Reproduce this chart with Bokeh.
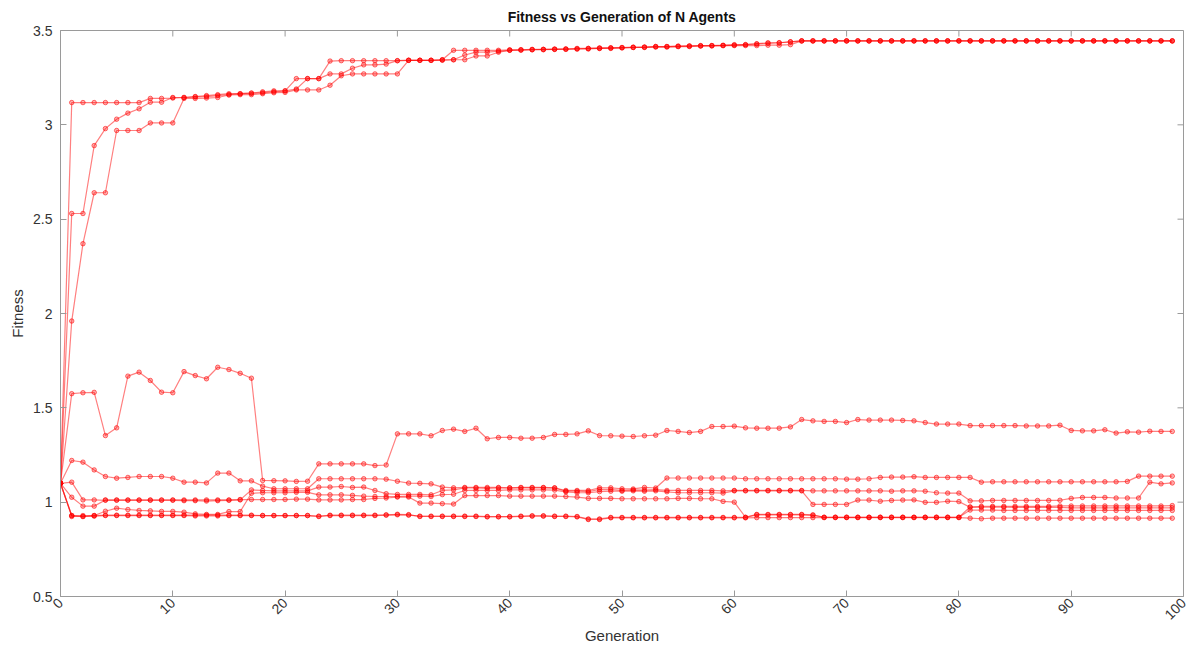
import math
from bokeh.plotting import figure
from bokeh.models import FixedTicker, CustomJSTickFormatter, Range1d, ColumnDataSource, Spacer
from bokeh.layouts import row
from bokeh.embed import file_html
from bokeh.resources import INLINE

generations = list(range(100))

agent_1 = [1.100, 3.118, 3.118, 3.118, 3.118, 3.118, 3.118, 3.118, 3.140, 3.140,
           3.142, 3.145, 3.150, 3.155, 3.160, 3.165, 3.165, 3.168, 3.175, 3.180,
           3.180, 3.245, 3.245, 3.245, 3.338, 3.340, 3.340, 3.340, 3.340, 3.340,
           3.340, 3.342, 3.342, 3.342, 3.345, 3.395, 3.395, 3.395, 3.395, 3.395,
           3.398, 3.398, 3.400, 3.400, 3.402, 3.402, 3.405, 3.405, 3.408, 3.408,
           3.410, 3.412, 3.412, 3.415, 3.415, 3.418, 3.418, 3.420, 3.420, 3.422,
           3.425, 3.425, 3.430, 3.435, 3.435, 3.440, 3.445, 3.445, 3.445, 3.445,
           3.445, 3.445, 3.445, 3.445, 3.445, 3.445, 3.445, 3.445, 3.445, 3.445,
           3.445, 3.445, 3.445, 3.445, 3.445, 3.445, 3.445, 3.445, 3.445, 3.445,
           3.445, 3.445, 3.445, 3.445, 3.445, 3.445, 3.445, 3.445, 3.445, 3.445]

agent_2 = [1.100, 2.530, 2.530, 2.890, 2.980, 3.030, 3.062, 3.085, 3.120, 3.120,
           3.145, 3.145, 3.148, 3.150, 3.155, 3.160, 3.165, 3.168, 3.170, 3.175,
           3.180, 3.190, 3.245, 3.245, 3.270, 3.270, 3.300, 3.318, 3.318, 3.322,
           3.340, 3.342, 3.342, 3.342, 3.345, 3.345, 3.370, 3.385, 3.385, 3.390,
           3.395, 3.398, 3.398, 3.400, 3.400, 3.402, 3.402, 3.405, 3.405, 3.408,
           3.408, 3.410, 3.412, 3.415, 3.415, 3.415, 3.418, 3.418, 3.420, 3.420,
           3.422, 3.425, 3.428, 3.432, 3.435, 3.440, 3.445, 3.445, 3.445, 3.445,
           3.445, 3.445, 3.445, 3.445, 3.445, 3.445, 3.445, 3.445, 3.445, 3.445,
           3.445, 3.445, 3.445, 3.445, 3.445, 3.445, 3.445, 3.445, 3.445, 3.445,
           3.445, 3.445, 3.445, 3.445, 3.445, 3.445, 3.445, 3.445, 3.445, 3.445]

agent_3 = [1.100, 1.960, 2.370, 2.640, 2.640, 2.970, 2.970, 2.970, 3.010, 3.010,
           3.010, 3.140, 3.140, 3.142, 3.145, 3.158, 3.160, 3.160, 3.165, 3.170,
           3.172, 3.185, 3.185, 3.185, 3.210, 3.260, 3.270, 3.270, 3.270, 3.270,
           3.270, 3.342, 3.342, 3.342, 3.342, 3.345, 3.345, 3.365, 3.365, 3.385,
           3.395, 3.395, 3.398, 3.398, 3.400, 3.400, 3.402, 3.402, 3.405, 3.405,
           3.408, 3.410, 3.410, 3.412, 3.412, 3.415, 3.415, 3.418, 3.418, 3.420,
           3.420, 3.420, 3.420, 3.422, 3.422, 3.425, 3.445, 3.445, 3.445, 3.445,
           3.445, 3.445, 3.445, 3.445, 3.445, 3.445, 3.445, 3.445, 3.445, 3.445,
           3.445, 3.445, 3.445, 3.445, 3.445, 3.445, 3.445, 3.445, 3.445, 3.445,
           3.445, 3.445, 3.445, 3.445, 3.445, 3.445, 3.445, 3.445, 3.445, 3.445]

agent_4 = [1.100, 1.575, 1.580, 1.582, 1.353, 1.394, 1.668, 1.689, 1.645, 1.583,
           1.580, 1.692, 1.671, 1.654, 1.715, 1.703, 1.683, 1.657, 1.115, 1.114,
           1.113, 1.110, 1.111, 1.203, 1.203, 1.203, 1.203, 1.203, 1.194, 1.197,
           1.362, 1.362, 1.362, 1.352, 1.380, 1.387, 1.375, 1.392, 1.336, 1.343,
           1.343, 1.339, 1.339, 1.343, 1.359, 1.359, 1.362, 1.378, 1.353, 1.352,
           1.350, 1.348, 1.352, 1.355, 1.380, 1.375, 1.369, 1.375, 1.401, 1.401,
           1.403, 1.394, 1.392, 1.392, 1.392, 1.399, 1.438, 1.431, 1.428, 1.428,
           1.422, 1.438, 1.435, 1.435, 1.435, 1.433, 1.431, 1.422, 1.414, 1.414,
           1.414, 1.406, 1.406, 1.406, 1.406, 1.406, 1.404, 1.404, 1.404, 1.408,
           1.380, 1.378, 1.378, 1.384, 1.366, 1.373, 1.371, 1.376, 1.375, 1.375]

agent_5 = [1.100, 1.221, 1.212, 1.171, 1.136, 1.127, 1.131, 1.136, 1.136, 1.136,
           1.127, 1.106, 1.106, 1.102, 1.154, 1.154, 1.113, 1.113, 1.085, 1.071,
           1.071, 1.071, 1.071, 1.124, 1.124, 1.124, 1.124, 1.124, 1.124, 1.122,
           1.111, 1.101, 1.100, 1.097, 1.080, 1.076, 1.078, 1.078, 1.078, 1.078,
           1.076, 1.078, 1.078, 1.078, 1.076, 1.062, 1.062, 1.062, 1.076, 1.076,
           1.071, 1.070, 1.078, 1.075, 1.128, 1.128, 1.128, 1.128, 1.128, 1.128,
           1.128, 1.124, 1.124, 1.124, 1.124, 1.124, 1.124, 1.124, 1.124, 1.124,
           1.122, 1.122, 1.124, 1.131, 1.133, 1.133, 1.135, 1.131, 1.131, 1.131,
           1.131, 1.131, 1.106, 1.108, 1.108, 1.108, 1.108, 1.108, 1.108, 1.108,
           1.108, 1.108, 1.108, 1.108, 1.108, 1.110, 1.138, 1.138, 1.138, 1.138]

agent_6 = [1.100, 1.106, 1.012, 1.012, 1.010, 1.010, 1.010, 1.010, 1.010, 1.010,
           1.010, 1.008, 1.008, 1.006, 1.008, 1.010, 1.012, 1.065, 1.062, 1.060,
           1.060, 1.060, 1.060, 1.080, 1.080, 1.083, 1.078, 1.080, 1.062, 1.045,
           1.041, 1.041, 1.041, 1.039, 1.062, 1.065, 1.075, 1.075, 1.073, 1.075,
           1.075, 1.076, 1.076, 1.076, 1.075, 1.058, 1.058, 1.056, 1.067, 1.067,
           1.062, 1.065, 1.064, 1.066, 1.062, 1.062, 1.062, 1.062, 1.062, 1.060,
           1.062, 1.062, 1.062, 1.062, 1.062, 1.062, 1.062, 1.060, 1.060, 1.060,
           1.060, 1.060, 1.060, 1.060, 1.058, 1.060, 1.060, 1.058, 1.050, 1.048,
           1.048, 1.007, 1.007, 1.009, 1.009, 1.009, 1.009, 1.009, 1.009, 1.010,
           1.020, 1.025, 1.025, 1.025, 1.022, 1.022, 1.022, 1.106, 1.097, 1.102]

agent_7 = [1.100, 1.026, 0.979, 0.979, 1.012, 1.012, 1.012, 1.012, 1.012, 1.012,
           1.012, 1.012, 1.012, 1.012, 1.012, 1.012, 1.014, 1.014, 1.014, 1.014,
           1.014, 1.016, 1.016, 1.012, 1.012, 1.012, 1.014, 1.014, 1.020, 1.022,
           1.027, 1.027, 0.995, 0.995, 0.992, 0.990, 1.035, 1.035, 1.035, 1.035,
           1.032, 1.032, 1.032, 1.032, 1.032, 1.030, 1.027, 1.020, 1.020, 1.020,
           1.018, 1.018, 1.018, 1.018, 1.018, 1.020, 1.020, 1.018, 1.018, 1.004,
           1.000, 0.920, 0.935, 0.935, 0.935, 0.935, 0.935, 0.933, 0.920, 0.920,
           0.920, 0.920, 0.920, 0.920, 0.920, 0.920, 0.920, 0.920, 0.920, 0.920,
           0.920, 0.975, 0.973, 0.973, 0.973, 0.972, 0.972, 0.972, 0.972, 0.972,
           0.970, 0.970, 0.970, 0.970, 0.970, 0.970, 0.970, 0.970, 0.970, 0.970]

agent_8 = [1.100, 0.929, 0.924, 0.929, 0.952, 0.968, 0.961, 0.956, 0.954, 0.951,
           0.951, 0.947, 0.938, 0.935, 0.935, 0.950, 0.950, 1.047, 1.050, 1.050,
           1.050, 1.052, 1.052, 1.039, 1.039, 1.039, 1.036, 1.032, 1.030, 1.030,
           1.030, 1.032, 1.032, 1.030, 1.040, 1.042, 1.062, 1.062, 1.062, 1.062,
           1.065, 1.065, 1.065, 1.065, 1.064, 1.055, 1.050, 1.050, 1.056, 1.058,
           1.058, 1.060, 1.058, 1.060, 1.055, 1.050, 1.050, 1.050, 1.050, 1.048,
           1.060, 1.060, 1.060, 1.060, 1.060, 1.060, 1.060, 0.988, 0.988, 0.988,
           0.988, 1.011, 1.011, 1.005, 1.009, 1.011, 1.012, 0.999, 0.999, 1.005,
           1.003, 0.973, 0.978, 0.978, 0.978, 0.978, 0.978, 0.978, 0.978, 0.980,
           0.980, 0.980, 0.980, 0.980, 0.980, 0.980, 0.980, 0.980, 0.980, 0.982]

agent_9 = [1.100, 0.924, 0.924, 0.926, 0.929, 0.929, 0.929, 0.929, 0.929, 0.929,
           0.929, 0.929, 0.927, 0.927, 0.927, 0.929, 0.929, 0.929, 0.929, 0.929,
           0.929, 0.929, 0.929, 0.924, 0.931, 0.931, 0.931, 0.931, 0.931, 0.933,
           0.936, 0.934, 0.924, 0.924, 0.924, 0.924, 0.924, 0.924, 0.922, 0.922,
           0.922, 0.924, 0.926, 0.926, 0.924, 0.924, 0.922, 0.908, 0.908, 0.917,
           0.917, 0.917, 0.917, 0.917, 0.917, 0.917, 0.917, 0.917, 0.917, 0.917,
           0.917, 0.917, 0.918, 0.918, 0.918, 0.918, 0.918, 0.918, 0.918, 0.918,
           0.918, 0.918, 0.918, 0.918, 0.918, 0.918, 0.918, 0.918, 0.918, 0.918,
           0.918, 0.915, 0.912, 0.915, 0.915, 0.915, 0.915, 0.915, 0.915, 0.915,
           0.915, 0.915, 0.915, 0.915, 0.915, 0.915, 0.915, 0.915, 0.915, 0.915]

agent_10 = [1.100, 0.929, 0.929, 0.929, 0.931, 0.931, 0.931, 0.931, 0.931, 0.931,
            0.931, 0.931, 0.931, 0.931, 0.931, 0.931, 0.931, 0.931, 0.929, 0.929,
            0.929, 0.929, 0.929, 0.926, 0.929, 0.929, 0.929, 0.929, 0.929, 0.931,
            0.933, 0.931, 0.926, 0.926, 0.926, 0.926, 0.926, 0.926, 0.924, 0.924,
            0.924, 0.926, 0.928, 0.928, 0.926, 0.926, 0.924, 0.911, 0.911, 0.919,
            0.919, 0.919, 0.919, 0.919, 0.919, 0.919, 0.919, 0.919, 0.919, 0.919,
            0.919, 0.919, 0.933, 0.933, 0.933, 0.933, 0.933, 0.930, 0.920, 0.920,
            0.920, 0.920, 0.920, 0.920, 0.920, 0.920, 0.920, 0.920, 0.920, 0.920,
            0.920, 0.958, 0.958, 0.958, 0.956, 0.956, 0.956, 0.956, 0.956, 0.956,
            0.956, 0.956, 0.956, 0.956, 0.956, 0.956, 0.956, 0.956, 0.956, 0.956]

agents = [agent_1, agent_2, agent_3, agent_4, agent_5,
          agent_6, agent_7, agent_8, agent_9, agent_10]

x_ticks = [0, 10, 20, 30, 40, 50, 60, 70, 80, 90, 100]
y_ticks = [0.5, 1, 1.5, 2, 2.5, 3, 3.5]
title_text = "Fitness vs Generation of N Agents"
x_label = "Generation"
y_label = "Fitness"

X_MIN, X_MAX = 0, 100
Y_MIN, Y_MAX = 0.5, 3.5
FRAME_W, FRAME_H = 1123, 566
LEFT_SHIFT_PX = 6
TICK_PX = 6

FONT = "Liberation Sans"
AXIS_GRAY = "#9a9a9a"
TEXT_GRAY = "#333333"

p = figure(frame_width=FRAME_W, frame_height=FRAME_H,
           x_range=Range1d(X_MIN, X_MAX), y_range=Range1d(Y_MIN, Y_MAX),
           output_backend="svg", toolbar_location=None,
           min_border_left=45, min_border_right=5, min_border_top=22, min_border_bottom=50,
           title=title_text)

p.title.align = "center"
p.title.text_font = FONT
p.title.text_font_size = "14px"
p.title.text_font_style = "bold"
p.title.text_color = "#111111"
p.title.standoff = 12

p.xgrid.visible = False
p.ygrid.visible = False
p.outline_line_color = AXIS_GRAY
p.outline_line_width = 1
p.background_fill_color = "white"
p.border_fill_color = "white"

fmt = CustomJSTickFormatter(code="return tick.toString();")

for ax in (p.xaxis[0], p.yaxis[0]):
    ax.axis_line_color = AXIS_GRAY
    ax.major_tick_line_color = AXIS_GRAY
    ax.major_tick_in = TICK_PX
    ax.major_tick_out = 0
    ax.minor_tick_line_color = None
    ax.major_label_text_font = FONT
    ax.major_label_text_font_size = "14px"
    ax.major_label_text_color = TEXT_GRAY
    ax.axis_label_text_font = FONT
    ax.axis_label_text_font_size = "15px"
    ax.axis_label_text_font_style = "normal"
    ax.axis_label_text_color = TEXT_GRAY
    ax.formatter = fmt

p.xaxis[0].ticker = FixedTicker(ticks=x_ticks)
p.yaxis[0].ticker = FixedTicker(ticks=y_ticks)
p.xaxis[0].major_label_orientation = math.pi / 4
p.xaxis[0].axis_label = x_label
p.yaxis[0].axis_label = y_label
p.xaxis[0].major_label_standoff = 4
p.xaxis[0].axis_label_standoff = 0
p.yaxis[0].major_label_standoff = 8
p.yaxis[0].axis_label_standoff = 4

# mirrored inward tick marks on the top and right edges of the box
dy = TICK_PX * (Y_MAX - Y_MIN) / FRAME_H
dx = TICK_PX * (X_MAX - X_MIN) / FRAME_W
p.segment(x0=x_ticks, y0=[Y_MAX] * len(x_ticks), x1=x_ticks, y1=[Y_MAX - dy] * len(x_ticks),
          line_color=AXIS_GRAY, line_width=1)
p.segment(x0=[X_MAX] * len(y_ticks), y0=y_ticks, x1=[X_MAX - dx] * len(y_ticks), y1=y_ticks,
          line_color=AXIS_GRAY, line_width=1)

for vals in agents:
    src = ColumnDataSource(dict(x=generations, y=vals))
    p.line("x", "y", source=src, line_color="red", line_alpha=0.5, line_width=1.2)
    p.scatter("x", "y", source=src, marker="circle", size=4.5,
              line_color="red", line_alpha=0.55, fill_color="red", fill_alpha=0.3)

layout = row(Spacer(width=LEFT_SHIFT_PX, height=FRAME_H), p)

open("out.html", "w").write(file_html(layout, INLINE))
